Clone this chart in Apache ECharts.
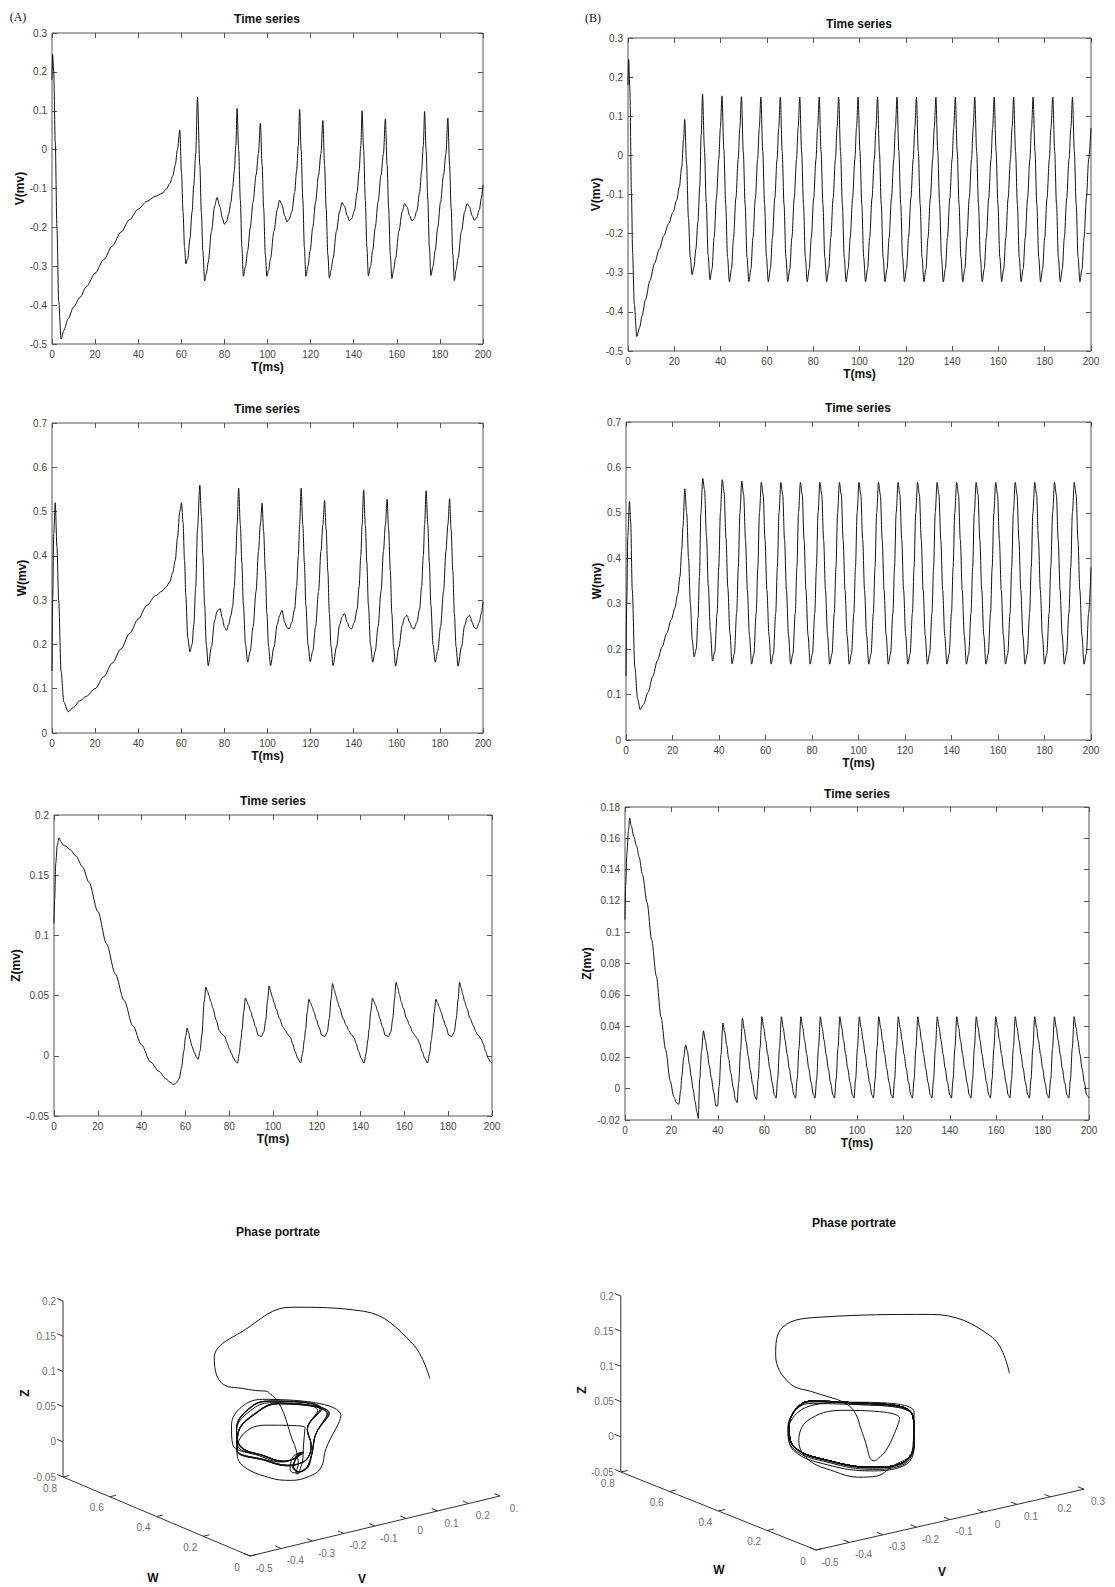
<!DOCTYPE html>
<html>
<head>
<meta charset="utf-8">
<script src="https://cdn.jsdelivr.net/npm/echarts@6.0.0/dist/echarts.min.js"></script>
<style>
  html, body { margin: 0; padding: 0; background: #fff; }
  #chart { width: 1115px; height: 1587px; }
</style>
</head>
<body>
<div id="chart"></div>
<script>
// ---- panel (A): time (ms) and V, W, Z ----
var tA = [0, 0.3, 0.8, 1.5, 2.3, 3.1, 4.2, 5.5, 7.5, 10,
  13, 16, 20, 24, 28, 32, 36, 40, 44, 48,
  51, 53, 54.7, 56, 57.2, 58.2, 59.3, 60.1, 60.8, 61.5,
  62.1, 63, 64, 65, 65.8, 66.7, 67.5, 68.6, 69.3, 70,
  70.8, 71.6, 72.5, 74, 75.5, 76.6, 78, 79, 80, 81,
  82, 83, 83.8, 84.6, 85.3,
  85.9, 86.6, 87.4, 88.1, 88.8, 89.8, 90.8, 92.0, 93.3, 94.7, 95.8, 96.7, 97.5, 98.2, 99.0, 99.7, 100.5, 101.4, 103.0, 104.5, 105.6, 106.7, 108.0, 109.0, 110.0, 111.3, 112.6, 113.5, 114.3,
  114.9, 115.6, 116.4, 117.1, 117.8, 118.8, 119.8, 121.0, 122.3, 123.7, 124.8, 125.7, 126.5, 127.2, 128.0, 128.7, 129.5, 130.4, 132.0, 133.5, 134.6, 135.7, 137.0, 138.0, 139.0, 140.3, 141.6, 142.5, 143.3,
  143.9, 144.6, 145.4, 146.1, 146.8, 147.8, 148.8, 150.0, 151.3, 152.7, 153.8, 154.7, 155.5, 156.2, 157.0, 157.7, 158.5, 159.4, 161.0, 162.5, 163.6, 164.7, 166.0, 167.0, 168.0, 169.3, 170.6, 171.5, 172.3,
  172.9, 173.6, 174.4, 175.1, 175.8, 176.8, 177.8, 179.0, 180.3, 181.7, 182.8, 183.7, 184.5, 185.2, 186.0, 186.7, 187.5, 188.4, 190.0, 191.5, 192.6, 193.7, 195.0, 196.0, 197.0, 198.3, 199.2, 200.0];

var vA = [0.18, 0.245, 0.2, 0.02, -0.2, -0.39, -0.487, -0.465, -0.435, -0.405,
  -0.38, -0.352, -0.318, -0.283, -0.248, -0.212, -0.18, -0.153, -0.133, -0.12,
  -0.113, -0.102, -0.087, -0.068, -0.04, 0.0, 0.05, -0.06, -0.16, -0.25,
  -0.294, -0.28, -0.23, -0.16, -0.09, -0.01, 0.135, -0.04, -0.16, -0.26,
  -0.338, -0.32, -0.29, -0.21, -0.145, -0.123, -0.148, -0.175, -0.192, -0.185,
  -0.165, -0.135, -0.1, -0.055, 0.01,
  0.106, 0.0, -0.13, -0.25, -0.326, -0.30, -0.26, -0.2, -0.135, -0.065, -0.01, 0.068, -0.04, -0.15, -0.27, -0.326, -0.31, -0.28, -0.21, -0.155, -0.13, -0.142, -0.17, -0.186, -0.18, -0.16, -0.11, -0.055, 0.01,
  0.104, 0.0, -0.13, -0.25, -0.326, -0.30, -0.26, -0.2, -0.135, -0.065, -0.01, 0.075, -0.04, -0.15, -0.27, -0.33, -0.31, -0.28, -0.21, -0.158, -0.136, -0.145, -0.17, -0.183, -0.178, -0.158, -0.11, -0.055, 0.01,
  0.10, 0.0, -0.13, -0.25, -0.325, -0.30, -0.26, -0.2, -0.135, -0.065, -0.01, 0.079, -0.04, -0.15, -0.27, -0.332, -0.31, -0.28, -0.21, -0.16, -0.139, -0.147, -0.17, -0.183, -0.178, -0.158, -0.11, -0.055, 0.01,
  0.098, 0.0, -0.13, -0.25, -0.324, -0.30, -0.26, -0.2, -0.135, -0.065, -0.01, 0.081, -0.04, -0.15, -0.27, -0.337, -0.31, -0.28, -0.21, -0.16, -0.139, -0.147, -0.17, -0.182, -0.176, -0.155, -0.125, -0.091];

var wA = [0.14, 0.30, 0.45, 0.52, 0.42, 0.30, 0.14, 0.07, 0.048, 0.058,
  0.073, 0.083, 0.1, 0.127, 0.158, 0.19, 0.225, 0.257, 0.288, 0.31,
  0.32, 0.33, 0.342, 0.362, 0.39, 0.44, 0.5, 0.52, 0.475, 0.39,
  0.31, 0.215, 0.183, 0.2, 0.245, 0.33, 0.46, 0.56, 0.49, 0.4,
  0.29, 0.2, 0.152, 0.195, 0.255, 0.275, 0.281, 0.26, 0.24, 0.232,
  0.245, 0.265, 0.285, 0.33, 0.40,
  0.47, 0.553, 0.47, 0.385, 0.29, 0.2, 0.16, 0.185, 0.24, 0.32, 0.41, 0.47, 0.519, 0.455, 0.365, 0.27, 0.195, 0.152, 0.194, 0.245, 0.265, 0.277, 0.25, 0.238, 0.235, 0.25, 0.28, 0.33, 0.40,
  0.47, 0.553, 0.47, 0.385, 0.29, 0.2, 0.161, 0.185, 0.24, 0.32, 0.41, 0.47, 0.525, 0.46, 0.365, 0.27, 0.195, 0.152, 0.194, 0.245, 0.262, 0.27, 0.25, 0.238, 0.235, 0.25, 0.28, 0.33, 0.40,
  0.47, 0.549, 0.47, 0.385, 0.29, 0.2, 0.16, 0.185, 0.24, 0.32, 0.41, 0.47, 0.528, 0.46, 0.365, 0.27, 0.195, 0.151, 0.194, 0.243, 0.26, 0.266, 0.25, 0.238, 0.235, 0.25, 0.28, 0.33, 0.40,
  0.47, 0.547, 0.47, 0.385, 0.29, 0.2, 0.16, 0.185, 0.24, 0.32, 0.41, 0.47, 0.529, 0.46, 0.365, 0.27, 0.195, 0.151, 0.194, 0.243, 0.26, 0.266, 0.25, 0.238, 0.235, 0.25, 0.27, 0.296];

var zA = [0.11, 0.13, 0.16, 0.175, 0.181, 0.178, 0.175, 0.174, 0.171, 0.166,
  0.157, 0.144, 0.12, 0.093, 0.068, 0.046, 0.025, 0.009, -0.005, -0.013,
  -0.019, -0.022, -0.024, -0.022, -0.019, -0.01, 0.004, 0.016, 0.023, 0.019,
  0.014, 0.008, 0.003, -0.001, -0.003, 0.004, 0.017, 0.045, 0.057, 0.054,
  0.05, 0.045, 0.04, 0.03, 0.021, 0.018, 0.016, 0.011, 0.006, 0.002,
  -0.002, -0.005, -0.006, 0.002, 0.013,
  0.022, 0.036, 0.048, 0.045, 0.042, 0.037, 0.031, 0.024, 0.017, 0.016, 0.02, 0.03, 0.046, 0.058, 0.053, 0.049, 0.044, 0.039, 0.031, 0.024, 0.021, 0.018, 0.015, 0.01, 0.004, -0.002, -0.006, 0.002, 0.013,
  0.022, 0.036, 0.047, 0.044, 0.041, 0.036, 0.03, 0.024, 0.017, 0.016, 0.02, 0.031, 0.047, 0.06, 0.055, 0.05, 0.045, 0.04, 0.031, 0.025, 0.021, 0.018, 0.015, 0.01, 0.004, -0.002, -0.006, 0.002, 0.013,
  0.022, 0.036, 0.048, 0.045, 0.042, 0.037, 0.031, 0.024, 0.017, 0.016, 0.02, 0.031, 0.047, 0.061, 0.056, 0.051, 0.045, 0.04, 0.031, 0.025, 0.02, 0.017, 0.014, 0.01, 0.004, -0.002, -0.006, 0.002, 0.013,
  0.022, 0.036, 0.047, 0.044, 0.041, 0.036, 0.03, 0.024, 0.017, 0.016, 0.02, 0.031, 0.047, 0.061, 0.056, 0.051, 0.045, 0.04, 0.031, 0.025, 0.02, 0.017, 0.014, 0.01, 0.004, -0.002, -0.005, -0.006];

// ---- panel (B) ----
var tB = [0, 0.3, 0.8, 1.5, 2.0, 2.7, 3.8, 5.0, 6.1, 7.5,
  9.5, 11.5, 13.5, 15.5, 17.5, 19.5, 21.0, 22.2, 23.2, 24.0,
  24.5, 25.3, 26.1, 26.9, 27.7, 28.5, 29.3, 30.2, 31.0, 31.6,
  32.2, 33.0, 33.8, 34.6, 35.4, 36.3, 37.2, 38.2, 39.2, 39.9,
  40.6, 41.4, 42.2, 43.0, 43.8, 44.7, 45.6, 46.6, 47.6, 48.3,
  49.0, 49.8, 50.6, 51.4, 52.2, 53.1, 54.0, 55.0, 56.0, 56.7,
  57.4, 58.2, 59.0, 59.8, 60.6, 61.5, 62.4, 63.4, 64.4, 65.1,
  65.8, 66.6, 67.4, 68.2, 69.0, 69.9, 70.8, 71.8, 72.8, 73.5,
  74.2, 75.0, 75.8, 76.6, 77.4, 78.3, 79.2, 80.2, 81.2, 81.9,
  82.6, 83.4, 84.2, 85.0, 85.8, 86.7, 87.6, 88.6, 89.6, 90.3,
  91.0, 91.8, 92.6, 93.4, 94.2, 95.1, 96.0, 97.0, 98.0, 98.7,
  99.4, 100.2, 101.0, 101.8, 102.6, 103.5, 104.4, 105.4, 106.4, 107.1,
  107.8, 108.6, 109.4, 110.2, 111.0, 111.9, 112.8, 113.8, 114.8, 115.5,
  116.2, 117.0, 117.8, 118.6, 119.4, 120.3, 121.2, 122.2, 123.2, 123.9,
  124.6, 125.4, 126.2, 127.0, 127.8, 128.7, 129.6, 130.6, 131.6, 132.3,
  133.0, 133.8, 134.6, 135.4, 136.2, 137.1, 138.0, 139.0, 140.0, 140.7,
  141.4, 142.2, 143.0, 143.8, 144.6, 145.5, 146.4, 147.4, 148.4, 149.1,
  149.8, 150.6, 151.4, 152.2, 153.0, 153.9, 154.8, 155.8, 156.8, 157.5,
  158.2, 159.0, 159.8, 160.6, 161.4, 162.3, 163.2, 164.2, 165.2, 165.9,
  166.6, 167.4, 168.2, 169.0, 169.8, 170.7, 171.6, 172.6, 173.6, 174.3,
  175.0, 175.8, 176.6, 177.4, 178.2, 179.1, 180.0, 181.0, 182.0, 182.7,
  183.5, 184.3, 185.1, 185.9, 186.7, 187.6, 188.5, 189.5, 190.5, 191.3,
  192.0, 192.8, 193.6, 194.4, 195.2, 196.1, 197.0, 198.0, 199.0, 200.0];

var vB = [0.18, 0.245, 0.17, -0.1, -0.25, -0.38, -0.463, -0.44, -0.41, -0.37,
  -0.32, -0.275, -0.24, -0.205, -0.175, -0.145, -0.115, -0.08, -0.03, 0.04,
  0.092, -0.02, -0.16, -0.26, -0.305, -0.285, -0.24, -0.17, -0.08, 0.05,
  0.157, 0.02, -0.12, -0.255, -0.318, -0.29, -0.21, -0.11, -0.01, 0.07,
  0.152, 0.015, -0.125, -0.26, -0.323, -0.29, -0.21, -0.11, -0.01, 0.07,
  0.15, 0.01, -0.125, -0.26, -0.323, -0.29, -0.21, -0.11, -0.01, 0.07,
  0.149, 0.01, -0.125, -0.26, -0.323, -0.29, -0.21, -0.11, -0.01, 0.07,
  0.149, 0.01, -0.125, -0.26, -0.323, -0.29, -0.21, -0.11, -0.01, 0.07,
  0.149, 0.01, -0.125, -0.26, -0.323, -0.29, -0.21, -0.11, -0.01, 0.07,
  0.149, 0.01, -0.125, -0.26, -0.323, -0.29, -0.21, -0.11, -0.01, 0.07,
  0.149, 0.01, -0.125, -0.26, -0.323, -0.29, -0.21, -0.11, -0.01, 0.07,
  0.149, 0.01, -0.125, -0.26, -0.323, -0.29, -0.21, -0.11, -0.01, 0.07,
  0.149, 0.01, -0.125, -0.26, -0.323, -0.29, -0.21, -0.11, -0.01, 0.07,
  0.149, 0.01, -0.125, -0.26, -0.323, -0.29, -0.21, -0.11, -0.01, 0.07,
  0.149, 0.01, -0.125, -0.26, -0.323, -0.29, -0.21, -0.11, -0.01, 0.07,
  0.149, 0.01, -0.125, -0.26, -0.323, -0.29, -0.21, -0.11, -0.01, 0.07,
  0.149, 0.01, -0.125, -0.26, -0.323, -0.29, -0.21, -0.11, -0.01, 0.07,
  0.149, 0.01, -0.125, -0.26, -0.323, -0.29, -0.21, -0.11, -0.01, 0.07,
  0.149, 0.01, -0.125, -0.26, -0.323, -0.29, -0.21, -0.11, -0.01, 0.07,
  0.149, 0.01, -0.125, -0.26, -0.323, -0.29, -0.21, -0.11, -0.01, 0.07,
  0.149, 0.01, -0.125, -0.26, -0.323, -0.29, -0.21, -0.11, -0.01, 0.07,
  0.149, 0.01, -0.125, -0.26, -0.323, -0.29, -0.21, -0.11, -0.01, 0.07,
  0.149, 0.01, -0.125, -0.26, -0.323, -0.29, -0.21, -0.11, -0.01, 0.07];

var wB = [0.141, 0.30, 0.45, 0.525, 0.48, 0.33, 0.16, 0.09, 0.067, 0.078,
  0.105, 0.14, 0.175, 0.205, 0.235, 0.265, 0.29, 0.32, 0.36, 0.42,
  0.47, 0.553, 0.50, 0.40, 0.30, 0.22, 0.183, 0.2, 0.27, 0.36,
  0.50, 0.576, 0.55, 0.45, 0.34, 0.24, 0.174, 0.195, 0.28, 0.38,
  0.50, 0.573, 0.545, 0.445, 0.335, 0.235, 0.168, 0.19, 0.28, 0.38,
  0.50, 0.57, 0.54, 0.44, 0.33, 0.23, 0.167, 0.19, 0.28, 0.38,
  0.50, 0.567, 0.54, 0.44, 0.33, 0.23, 0.167, 0.19, 0.28, 0.38,
  0.50, 0.567, 0.54, 0.44, 0.33, 0.23, 0.167, 0.19, 0.28, 0.38,
  0.50, 0.567, 0.54, 0.44, 0.33, 0.23, 0.167, 0.19, 0.28, 0.38,
  0.50, 0.567, 0.54, 0.44, 0.33, 0.23, 0.167, 0.19, 0.28, 0.38,
  0.50, 0.567, 0.54, 0.44, 0.33, 0.23, 0.167, 0.19, 0.28, 0.38,
  0.50, 0.567, 0.54, 0.44, 0.33, 0.23, 0.167, 0.19, 0.28, 0.38,
  0.50, 0.567, 0.54, 0.44, 0.33, 0.23, 0.167, 0.19, 0.28, 0.38,
  0.50, 0.567, 0.54, 0.44, 0.33, 0.23, 0.167, 0.19, 0.28, 0.38,
  0.50, 0.567, 0.54, 0.44, 0.33, 0.23, 0.167, 0.19, 0.28, 0.38,
  0.50, 0.567, 0.54, 0.44, 0.33, 0.23, 0.167, 0.19, 0.28, 0.38,
  0.50, 0.567, 0.54, 0.44, 0.33, 0.23, 0.167, 0.19, 0.28, 0.38,
  0.50, 0.567, 0.54, 0.44, 0.33, 0.23, 0.167, 0.19, 0.28, 0.38,
  0.50, 0.567, 0.54, 0.44, 0.33, 0.23, 0.167, 0.19, 0.28, 0.38,
  0.50, 0.567, 0.54, 0.44, 0.33, 0.23, 0.167, 0.19, 0.28, 0.38,
  0.50, 0.567, 0.54, 0.44, 0.33, 0.23, 0.167, 0.19, 0.28, 0.38,
  0.50, 0.567, 0.54, 0.44, 0.33, 0.23, 0.167, 0.19, 0.28, 0.38,
  0.50, 0.567, 0.54, 0.44, 0.33, 0.23, 0.167, 0.19, 0.28, 0.38];

var zB = [0.108, 0.13, 0.15, 0.165, 0.173, 0.168, 0.161, 0.155, 0.148, 0.137,
  0.119, 0.095, 0.072, 0.046, 0.025, 0.005, -0.005, -0.009, -0.01, -0.001,
  0.008, 0.02, 0.028, 0.024, 0.016, 0.008, 0.0, -0.008, -0.015, -0.019,
  0.006, 0.024, 0.037, 0.031, 0.024, 0.015, 0.007, -0.002, -0.011, -0.011,
  0.002, 0.022, 0.042, 0.036, 0.028, 0.019, 0.01, 0.001, -0.007, -0.009,
  0.004, 0.024, 0.045, 0.038, 0.03, 0.021, 0.012, 0.003, -0.005, -0.007,
  0.006, 0.026, 0.046, 0.039, 0.031, 0.022, 0.013, 0.004, -0.004, -0.006,
  0.006, 0.026, 0.046, 0.039, 0.031, 0.022, 0.013, 0.004, -0.004, -0.006,
  0.006, 0.026, 0.046, 0.039, 0.031, 0.022, 0.013, 0.004, -0.004, -0.006,
  0.006, 0.026, 0.046, 0.039, 0.031, 0.022, 0.013, 0.004, -0.004, -0.006,
  0.006, 0.026, 0.046, 0.039, 0.031, 0.022, 0.013, 0.004, -0.004, -0.006,
  0.006, 0.026, 0.046, 0.039, 0.031, 0.022, 0.013, 0.004, -0.004, -0.006,
  0.006, 0.026, 0.046, 0.039, 0.031, 0.022, 0.013, 0.004, -0.004, -0.006,
  0.006, 0.026, 0.046, 0.039, 0.031, 0.022, 0.013, 0.004, -0.004, -0.006,
  0.006, 0.026, 0.046, 0.039, 0.031, 0.022, 0.013, 0.004, -0.004, -0.006,
  0.006, 0.026, 0.046, 0.039, 0.031, 0.022, 0.013, 0.004, -0.004, -0.006,
  0.006, 0.026, 0.046, 0.039, 0.031, 0.022, 0.013, 0.004, -0.004, -0.006,
  0.006, 0.026, 0.046, 0.039, 0.031, 0.022, 0.013, 0.004, -0.004, -0.006,
  0.006, 0.026, 0.046, 0.039, 0.031, 0.022, 0.013, 0.004, -0.004, -0.006,
  0.006, 0.026, 0.046, 0.039, 0.031, 0.022, 0.013, 0.004, -0.004, -0.006,
  0.006, 0.026, 0.046, 0.039, 0.031, 0.022, 0.013, 0.004, -0.004, -0.006,
  0.006, 0.026, 0.046, 0.039, 0.031, 0.022, 0.013, 0.004, -0.004, -0.006,
  0.006, 0.026, 0.046, 0.039, 0.031, 0.022, 0.013, 0.004, -0.004, -0.006];

// tick values of the 3-D phase axes
var vTicks = [-0.5, -0.4, -0.3, -0.2, -0.1, 0, 0.1, 0.2, 0.3];
var wTicks = [0, 0.2, 0.4, 0.6, 0.8];
var zTicks = [-0.05, 0, 0.05, 0.1, 0.15, 0.2];
var vTickTextA = ['-0.5', '-0.4', '-0.3', '-0.2', '-0.1', '0', '0.1', '0.2', '0.'];
var vTickTextB = ['-0.5', '-0.4', '-0.3', '-0.2', '-0.1', '0', '0.1', '0.2', '0.3'];

var font = '"Liberation Sans", Arial, Helvetica, sans-serif';
var grids = [], xAxes = [], yAxes = [], series = [], graphics = [];

function addText(s, x, y, opt) {
  opt = opt || {};
  graphics.push({
    type: 'text', x: x, y: y, rotation: opt.rot || 0, silent: true,
    style: {
      text: s,
      font: (opt.bold ? 'bold ' : '') + (opt.size || 12) + 'px ' + (opt.family || font),
      fill: opt.color || '#111',
      align: 'center', verticalAlign: 'middle',
      textAlign: 'center', textVerticalAlign: 'middle'
    }
  });
}

function timePanel(box, t, y, yr, yName, yGap) {
  var gi = grids.length;
  grids.push({ left: box[0], top: box[1], width: box[2], height: box[3],
    show: true, borderColor: '#555', borderWidth: 1, backgroundColor: 'transparent' });
  var tick = { show: true, inside: true, length: 5, lineStyle: { color: '#555', width: 1 } };
  var noLine = { show: false, onZero: false };
  var lab = { color: '#444', fontSize: 10, fontFamily: font, margin: 5 };
  var nameStyle = { fontSize: 12, fontWeight: 'bold', color: '#111', fontFamily: font };
  var xi = xAxes.length, yi = yAxes.length;
  xAxes.push({ gridIndex: gi, type: 'value', position: 'bottom', min: 0, max: 200, interval: 20,
    axisLine: noLine, axisTick: tick, splitLine: { show: false }, axisLabel: lab,
    name: 'T(ms)', nameLocation: 'middle', nameGap: 17, nameTextStyle: nameStyle });
  xAxes.push({ gridIndex: gi, type: 'value', position: 'top', min: 0, max: 200, interval: 20,
    axisLine: noLine, axisTick: tick, splitLine: { show: false }, axisLabel: { show: false } });
  yAxes.push({ gridIndex: gi, type: 'value', position: 'left', min: yr[0], max: yr[1], interval: yr[2],
    axisLine: noLine, axisTick: tick, splitLine: { show: false }, axisLabel: lab,
    name: yName, nameLocation: 'middle', nameGap: yGap, nameTextStyle: nameStyle });
  yAxes.push({ gridIndex: gi, type: 'value', position: 'right', min: yr[0], max: yr[1], interval: yr[2],
    axisLine: noLine, axisTick: tick, splitLine: { show: false }, axisLabel: { show: false } });
  series.push({ type: 'line', xAxisIndex: xi, yAxisIndex: yi,
    data: t.map(function (x, i) { return [x, y[i]]; }),
    showSymbol: false, symbol: 'none', smooth: 0.3, smoothMonotone: 'x',
    lineStyle: { color: '#111', width: 1 }, silent: true, z: 3 });
}

// 3-D box drawn as an oblique projection of (V, W, Z) onto a pixel-scaled hidden grid
function phasePanel(box, origin, vVec, wVec, zScale, v, w, z, vText) {
  var gi = grids.length;
  grids.push({ left: box[0], top: box[1], width: box[2], height: box[3], show: false });
  var xi = xAxes.length, yi = yAxes.length;
  xAxes.push({ gridIndex: gi, type: 'value', show: false,
    min: box[0] - origin[0], max: box[0] + box[2] - origin[0] });
  yAxes.push({ gridIndex: gi, type: 'value', show: false,
    min: origin[1] - box[1] - box[3], max: origin[1] - box[1] });
  function P(a, b, c) {
    return [(a + 0.5) * vVec[0] + b * wVec[0],
            (a + 0.5) * vVec[1] + b * wVec[1] + (c + 0.05) * zScale];
  }
  var segs = [{ coords: [P(-0.5, 0.8, 0.2), P(-0.5, 0.8, -0.05), P(-0.5, 0, -0.05), P(0.3, 0, -0.05)] }];
  var labels = [];
  zTicks.forEach(function (c) {
    segs.push({ coords: [P(-0.5, 0.8, c), P(-0.5, 0.825, c)] });
    labels.push({ name: String(c), value: P(-0.5, 0.8, c), label: { align: 'right', offset: [-7, 0] } });
  });
  wTicks.forEach(function (b) {
    segs.push({ coords: [P(-0.5, b, -0.05), P(-0.48, b, -0.05)] });
    labels.push({ name: String(b), value: P(-0.5, b, -0.05), label: { offset: [-13, 11] } });
  });
  vTicks.forEach(function (a, k) {
    segs.push({ coords: [P(a, 0, -0.05), P(a, 0.025, -0.05)] });
    labels.push({ name: vText[k], value: P(a, 0, -0.05), label: { offset: [14, 12] } });
  });
  series.push({ type: 'lines', coordinateSystem: 'cartesian2d', xAxisIndex: xi, yAxisIndex: yi,
    polyline: true, data: segs, lineStyle: { color: '#333', width: 1, opacity: 1 }, silent: true });
  series.push({ type: 'line', xAxisIndex: xi, yAxisIndex: yi,
    data: v.map(function (a, i) { return P(a, w[i], z[i]); }),
    showSymbol: false, symbol: 'none', smooth: 0.4, clip: false,
    lineStyle: { color: '#111', width: 1 }, silent: true });
  series.push({ type: 'scatter', xAxisIndex: xi, yAxisIndex: yi, data: labels,
    symbolSize: 1, itemStyle: { color: 'rgba(0,0,0,0)' }, silent: true,
    label: { show: true, position: 'inside', formatter: '{b}', color: '#444',
      fontSize: 10, fontFamily: font, align: 'center', verticalAlign: 'middle' } });
}

timePanel([52, 33, 431, 311], tA, vA, [-0.5, 0.3, 0.1], 'V(mv)', 24);
timePanel([52, 423, 431, 310], tA, wA, [0, 0.7, 0.1], 'W(mv)', 24);
timePanel([54, 815, 438, 301], tA, zA, [-0.05, 0.2, 0.05], 'Z(mv)', 24);
timePanel([628, 38, 463, 313], tB, vB, [-0.5, 0.3, 0.1], 'V(mv)', 20);
timePanel([626, 422, 465, 318], tB, wB, [0, 0.7, 0.1], 'W(mv)', 20);
timePanel([625, 807, 464, 313], tB, zB, [-0.02, 0.18, 0.02], 'Z(mv)', 20);

phasePanel([20, 1250, 500, 335], [250, 1556], [312.5, 75], [-233.75, 98.75], 704, vA, wA, zA, vTickTextA);
phasePanel([585, 1250, 525, 335], [816, 1550], [335, 76], [-244, 97.5], 704, vB, wB, zB, vTickTextB);

addText('(A)', 18, 17, { family: '"Liberation Serif", "Times New Roman", serif', size: 12 });
addText('(B)', 593, 18, { family: '"Liberation Serif", "Times New Roman", serif', size: 12 });
addText('Time series', 267, 19, { bold: true });
addText('Time series', 859, 24, { bold: true });
addText('Time series', 267, 409, { bold: true });
addText('Time series', 858, 408, { bold: true });
addText('Time series', 273, 801, { bold: true });
addText('Time series', 857, 794, { bold: true });
addText('Phase portrate', 278, 1232, { bold: true });
addText('Phase portrate', 854, 1223, { bold: true });
addText('Z', 25, 1393, { bold: true, rot: Math.PI / 2 });
addText('W', 153, 1578, { bold: true });
addText('V', 362, 1579, { bold: true });
addText('Z', 582, 1390, { bold: true, rot: Math.PI / 2 });
addText('W', 719, 1570, { bold: true });
addText('V', 942, 1572, { bold: true });

var chart = echarts.init(document.getElementById('chart'), null, { renderer: 'svg' });
chart.setOption({
  animation: false,
  backgroundColor: '#fff',
  textStyle: { fontFamily: font },
  grid: grids,
  xAxis: xAxes,
  yAxis: yAxes,
  series: series,
  graphic: { elements: graphics }
});
</script>
</body>
</html>
